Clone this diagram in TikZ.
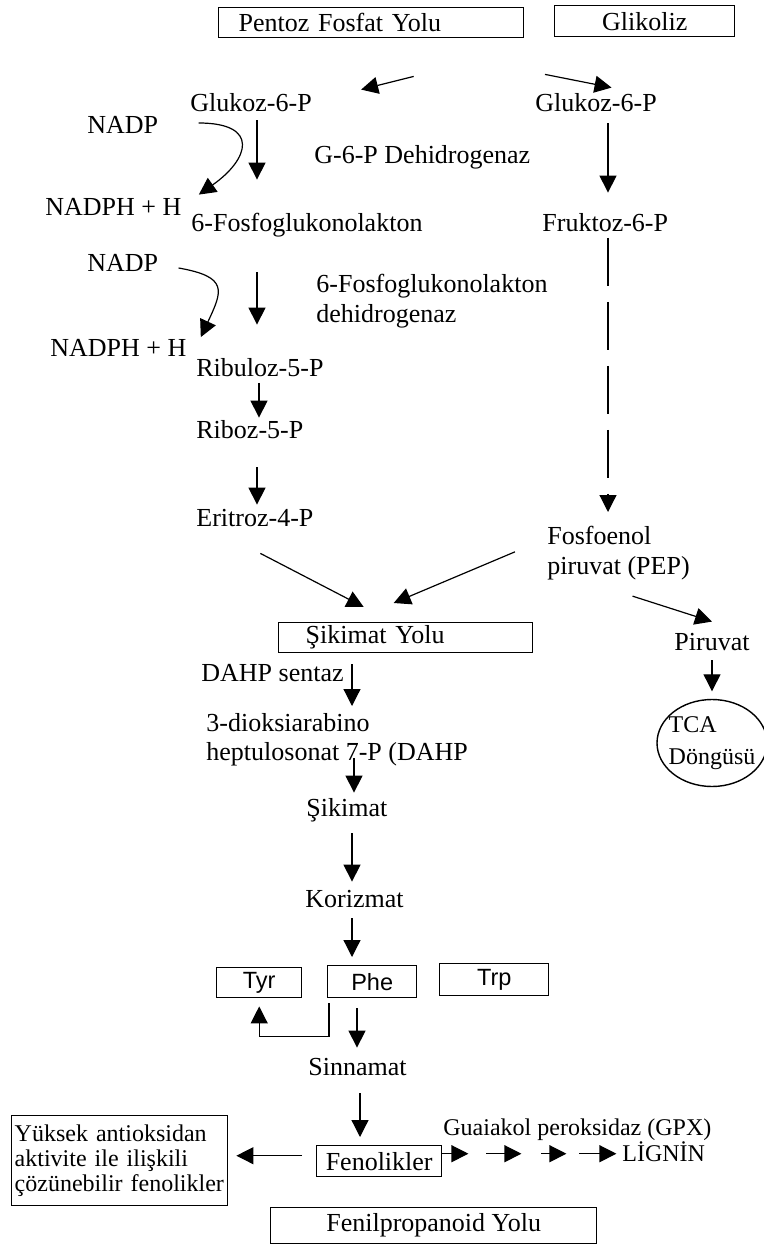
\documentclass[tikz,border=0pt]{standalone}
\usepackage{fontspec}
\setmainfont{Liberation Serif}
\newfontfamily\arialfont{Liberation Sans}
\usetikzlibrary{arrows.meta,shapes.geometric}
\tikzset{
lbl/.style={inner sep=0pt,anchor=west,font=\fontsize{13}{15}\selectfont,
    text height=9.5pt,text depth=3pt},
multiline/.style={inner sep=0pt,anchor=north west,align=left,
    font=\fontsize{13}{#1}\selectfont},
pathbox/.style={draw,line width=0.7pt,anchor=north west,inner sep=0pt,
    font=\fontsize{13}{15}\selectfont},
aabox/.style={draw,line width=0.7pt,anchor=north west,inner sep=0pt,
    font=\arialfont\fontsize{11.75}{13}\selectfont},
arr/.style={-{Triangle[length=8.5pt,width=8.5pt]},line width=0.6pt}
}

\begin{document}
\begin{tikzpicture}[x=0.5pt,y=-0.5pt]
\useasboundingbox (0,0) rectangle (764,1245);

% pathway boxes
\node[pathbox,text width=132.5pt,inner xsep=10pt,minimum height=15pt,align=left] (pfy) at (218,7) {Pentoz Fosfat Yolu};
\node[pathbox,minimum width=90pt,minimum height=15.5pt] (glk) at (554,5) {Glikoliz};
\node[pathbox,text width=100pt,inner xsep=13.5pt,minimum height=15pt,align=left] (sky) at (278,622) {Şikimat Yolu};
\node[pathbox,minimum width=62.5pt,minimum height=15.5pt] (fen) at (316,1145) {Fenolikler};
\node[pathbox,minimum width=163pt,minimum height=18pt] (fpy) at (270,1207) {Fenilpropanoid Yolu};
\node[pathbox,text width=105pt,inner xsep=1.5pt,inner ysep=2pt,minimum height=45pt,align=left,
  font=\fontsize{12}{12.5}\selectfont] (yuk) at (11,1115) {Yüksek antioksidan\\aktivite ile ilişkili\\çözünebilir fenolikler};
\node[aabox,minimum width=42.5pt,minimum height=15pt] (tyr) at (216,967) {Tyr};
\node[aabox,minimum width=44.5pt,minimum height=16pt] (phe) at (327,965) {Phe};
\node[aabox,minimum width=54.5pt,minimum height=16pt] (trp) at (439,963) {Trp};
\node[draw,ellipse,line width=0.7pt,minimum width=55pt,minimum height=43.5pt,inner xsep=-4pt,inner ysep=0pt,
  align=left,font=\fontsize{12}{16}\selectfont] (tca) at (712,743) {TCA\\Döngüsü};

% metabolites
\node[lbl] (g6pL) at (190,105) {Glukoz-6-P};
\node[lbl] (g6pR) at (535,105) {Glukoz-6-P};
\node[lbl] (nadpA) at (87,127) {NADP};
\node[lbl] (g6pdh) at (314,157) {G-6-P Dehidrogenaz};
\node[lbl] (nadphA) at (45,209) {NADPH + H};
\node[lbl] (fglk) at (191,225) {6-Fosfoglukonolakton};
\node[lbl] (f6p) at (542,225) {Fruktoz-6-P};
\node[lbl] (nadpB) at (87,265) {NADP};
\node[multiline=15] (fgdh) at (316,274) {6-Fosfoglukonolakton\\dehidrogenaz};
\node[lbl] (nadphB) at (50,350) {NADPH + H};
\node[lbl] (r5pu) at (196,370) {Ribuloz-5-P};
\node[lbl] (r5p) at (196,432) {Riboz-5-P};
\node[lbl] (e4p) at (196,520) {Eritroz-4-P};
\node[multiline=15] (pep) at (547,526) {Fosfoenol\\piruvat (PEP)};
\node[lbl] (piru) at (674,644) {Piruvat};
\node[lbl] (dahps) at (201,675) {DAHP sentaz};
\node[multiline=14.5] (dahp) at (206,713) {3-dioksiarabino\\heptulosonat 7-P (DAHP};
\node[lbl] (sik) at (306,810) {Şikimat};
\node[lbl] (kor) at (305,901) {Korizmat};
\node[lbl] (sin) at (308,1069) {Sinnamat};
\node[lbl,font=\fontsize{12}{14}\selectfont] (gpx) at (443,1129) {Guaiakol peroksidaz (GPX)};
\node[lbl,font=\fontsize{12}{14}\selectfont] (lig) at (622,1155) {LİGNİN};

% arrows
\draw[arr] ([xshift=21.25pt,yshift=-19pt]pfy.south) -- ([xshift=24.5pt,yshift=1.25pt]g6pL.north east);
\draw[arr] ([xshift=-4.5pt,yshift=-18.5pt]glk.south west) -- ([xshift=7.75pt,yshift=2.25pt]g6pR.north);
\draw[arr,shorten <=1.25pt,shorten >=16.25pt] (g6pL.south -| 257,0) -- (fglk.north -| 257,0);
\draw[arr,shorten <=2.75pt,shorten >=9.75pt] (g6pR.south -| 608,0) -- (f6p.north -| 608,0);
\draw[arr] ([xshift=20pt,yshift=2pt]nadpA.east) to[out=0,in=35,looseness=2.2] ([xshift=8.5pt,yshift=0.75pt]nadphA.north east);
\draw[arr] ([xshift=10pt,yshift=-1.5pt]nadpB.east) to[out=-10,in=65,looseness=1.8] ([xshift=7pt]nadphB.north east);
\draw[arr,shorten <=17.25pt,shorten >=16.25pt] (fglk.south -| 257,0) -- (r5pu.north -| 257,0);
\draw[arr,shorten >=0.75pt] (r5pu.south -| 259,0) -- (r5p.north -| 259,0);
\draw[arr,shorten <=11.25pt,shorten >=1.25pt] (r5p.south -| 257,0) -- (e4p.north -| 257,0);
\draw[arr,dash pattern=on 24pt off 8pt,shorten >=7pt] (f6p.south -| 608,0) -- (pep.north -| 608,0);
\draw[arr] ([xshift=2.75pt,yshift=-10.25pt]e4p.south) -- ([xshift=-21pt,yshift=7.5pt]sky.north);
\draw[arr] ([xshift=-16pt,yshift=0.75pt]pep.west) -- ([xshift=-6pt,yshift=9.5pt]sky.north);
\draw[arr] ([xshift=7pt,yshift=-7.75pt]pep.south) -- ([yshift=4.75pt]piru.north);
\draw[arr,shorten <=1.75pt,shorten >=3.75pt] (piru.south -| tca.north) -- (tca.north);
\draw[arr,shorten <=5.5pt,shorten >=3.5pt] (sky.south -| 352,0) -- (dahp.north -| 352,0);
\draw[arr,shorten <=-4.2pt,shorten >=2.25pt] (dahp.south -| 354,0) -- (sik.north -| 354,0);
\draw[arr,shorten <=5.25pt,shorten >=3.25pt] (sik.south -| 352,0) -- (kor.north -| 352,0);
\draw[arr,shorten <=2.25pt,shorten >=4pt] (kor.south -| 352,0) -- (phe.north -| 352,0);
\draw[arr,shorten <=2.5pt,shorten >=4pt] ([xshift=1pt]phe.south west) -- ++(0,38) -| (tyr.south);
\draw[arr,shorten <=5pt,shorten >=4.25pt] (phe.south -| 357,0) -- (sin.north -| 357,0);
\draw[arr,shorten <=5.75pt,shorten >=4pt] (sin.south -| 360,0) -- (fen.north -| 360,0);
\draw[arr,shorten <=7pt,shorten >=4pt] ([yshift=2.75pt]fen.west) -- ([yshift=2.75pt]fen.west -| yuk.east);
\foreach \a/\b in {0/13,22/39.5,49.5/62,68.5/87}
  \draw[arr] ([xshift=\a pt,yshift=3.75pt]fen.east) -- ([xshift=\b pt,yshift=3.75pt]fen.east);
\end{tikzpicture}
\end{document}
